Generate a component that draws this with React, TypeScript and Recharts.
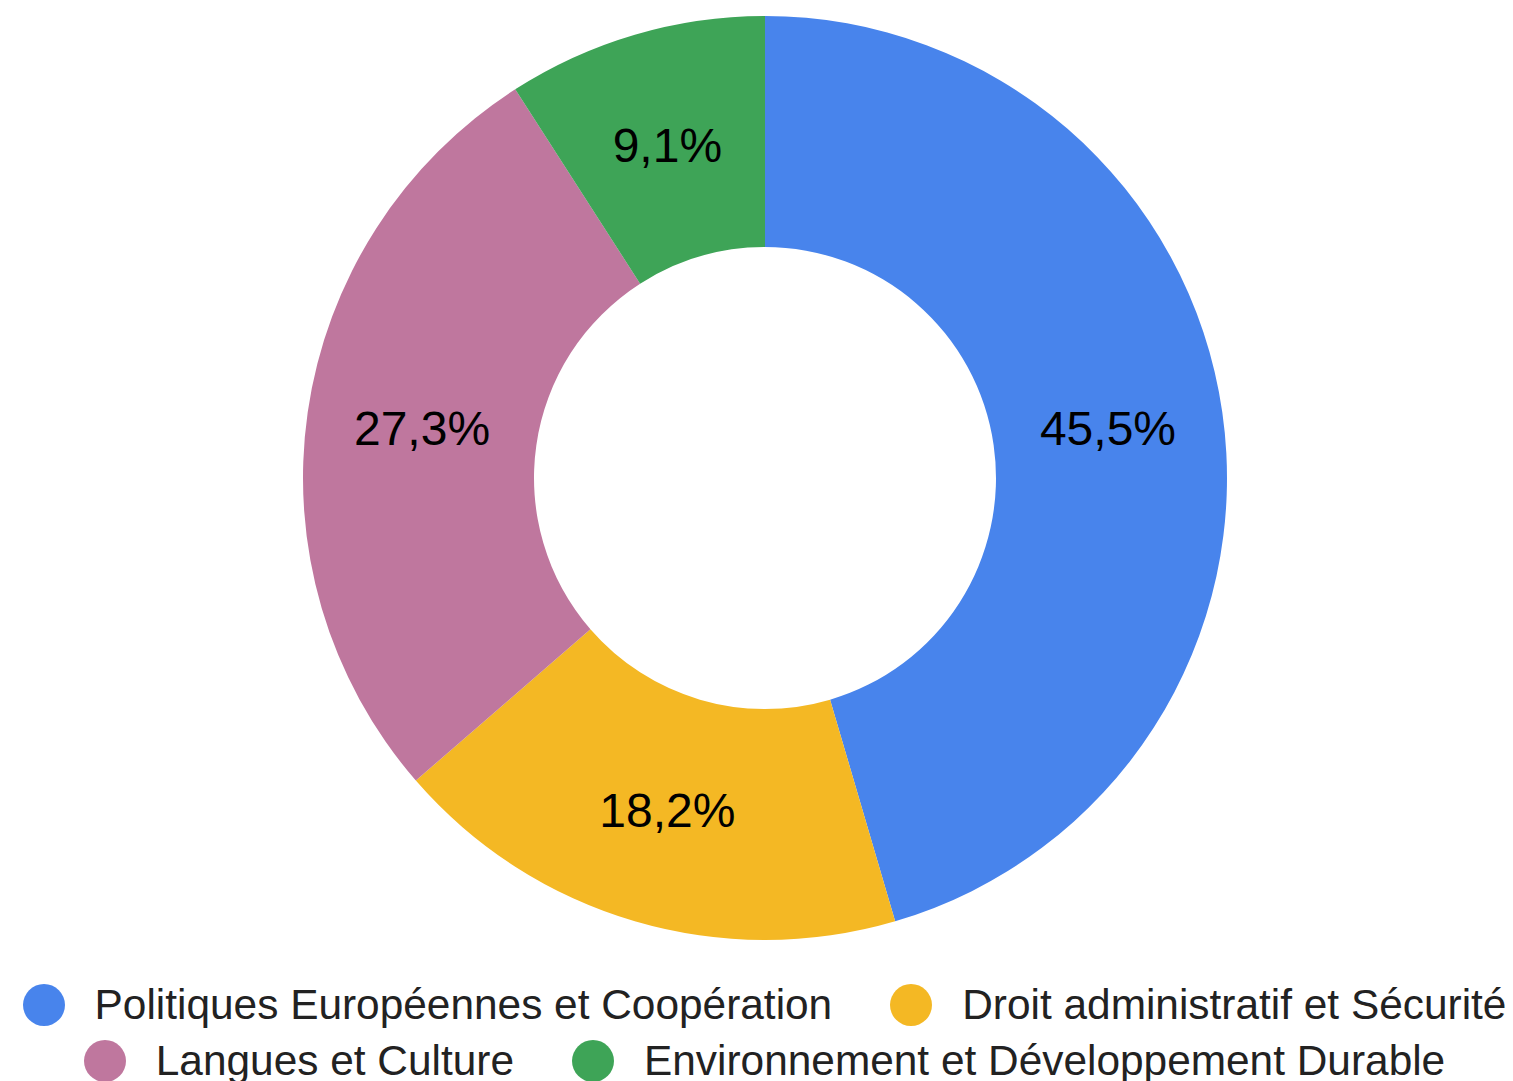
import { PieChart, Pie, Cell, Legend } from 'recharts';

const CATEGORIES = [
  'Politiques Européennes et Coopération',
  'Droit administratif et Sécurité',
  'Langues et Culture',
  'Environnement et Développement Durable',
];
const VALUES = [5, 2, 3, 1];
const LABELS = ['45,5%', '18,2%', '27,3%', '9,1%'];
const COLORS = ['#4884EC', '#F4B824', '#BF779E', '#3EA457'];

const data = CATEGORIES.map((name, i) => ({ name, value: VALUES[i], label: LABELS[i] }));

const RAD = Math.PI / 180;
const FONT = '"Liberation Sans", Arial, sans-serif';

const renderLabel = (p: any) => {
  const r = (p.innerRadius + p.outerRadius) / 2;
  const x = p.cx + r * Math.cos(-p.midAngle * RAD);
  const y = p.cy + r * Math.sin(-p.midAngle * RAD);
  return (
    <text
      x={x}
      y={y}
      textAnchor="middle"
      dominantBaseline="central"
      fill="#000"
      fontSize={48}
      fontFamily={FONT}
    >
      {data[p.index].label}
    </text>
  );
};

// légende en deux lignes, pastilles rondes
const LegendContent = () => {
  const rows = [data.slice(0, 2), data.slice(2, 4)];
  return (
    <div style={{ fontFamily: FONT, fontSize: 42.4, color: '#222' }}>
      {rows.map((row, ri) => (
        <div
          key={ri}
          style={{
            display: 'flex',
            justifyContent: 'center',
            alignItems: 'center',
            height: 40,
            marginTop: ri > 0 ? 16 : 0,
          }}
        >
          {row.map((d, i) => {
            const idx = ri * 2 + i;
            return (
              <div
                key={d.name}
                style={{ display: 'flex', alignItems: 'center', marginLeft: i > 0 ? 58 : 0 }}
              >
                <span
                  style={{
                    width: 42,
                    height: 42,
                    borderRadius: '50%',
                    background: COLORS[idx],
                    display: 'inline-block',
                    marginRight: 30,
                  }}
                />
                <span style={{ whiteSpace: 'nowrap', lineHeight: '40px' }}>{d.name}</span>
              </div>
            );
          })}
        </div>
      ))}
    </div>
  );
};

export default function App() {
  return (
    <div
      style={{
        position: 'fixed',
        top: 0,
        left: 0,
        width: 1513,
        height: 1081,
        overflow: 'hidden',
        background: '#fff',
      }}
    >
      <PieChart width={1513} height={1081} margin={{ top: 0, right: 0, bottom: 0, left: 0 }}>
        <Pie
          data={data}
          dataKey="value"
          nameKey="name"
          cx={765}
          cy={478}
          innerRadius={231}
          outerRadius={462}
          startAngle={90}
          endAngle={-270}
          stroke="none"
          label={renderLabel}
          labelLine={false}
          isAnimationActive={false}
        >
          {data.map((d, i) => (
            <Cell key={d.name} fill={COLORS[i]} />
          ))}
        </Pie>
        <Legend
          content={<LegendContent />}
          wrapperStyle={{ top: 985, left: 8, width: 1513, bottom: 'auto' }}
        />
      </PieChart>
    </div>
  );
}
